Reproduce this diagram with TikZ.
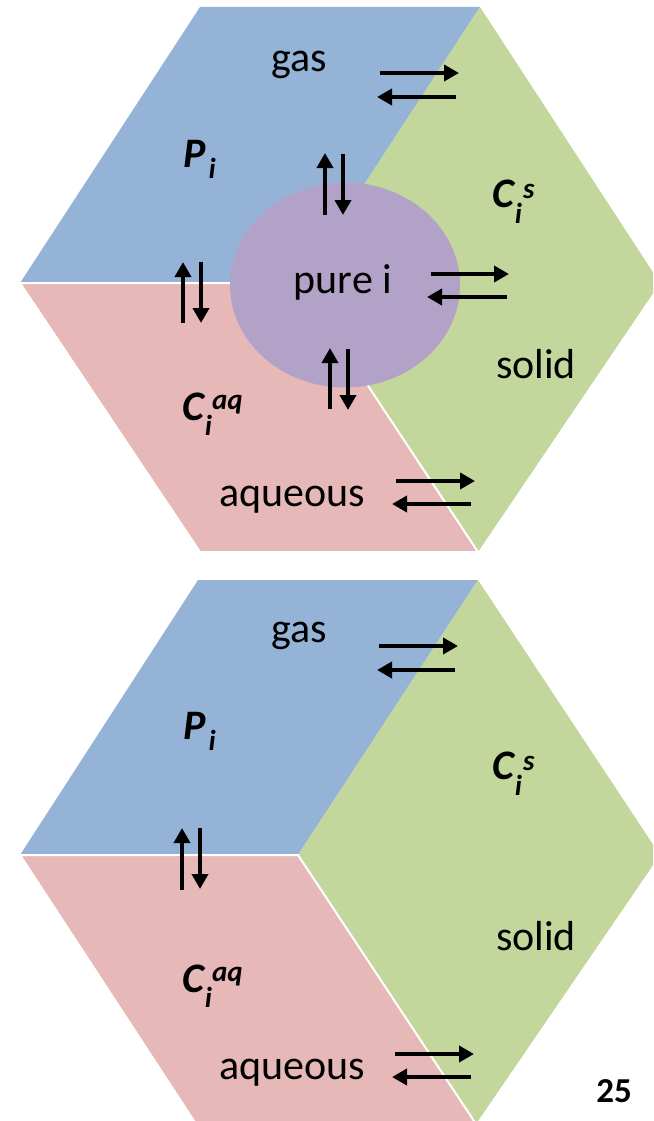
\documentclass[tikz,border=0pt]{standalone}
\usepackage{fontspec}
\setmainfont{Carlito}
\usetikzlibrary{arrows.meta,shapes.geometric}
\definecolor{gasblue}{HTML}{95B3D7}
\definecolor{solidgreen}{HTML}{C3D69B}
\definecolor{aqpink}{HTML}{E6B9B8}
\definecolor{purepurple}{HTML}{B3A2C7}
\newcommand{\smallidx}[1]{{\fontsize{29}{30}\selectfont #1}}
\begin{document}
\begin{tikzpicture}[x=1pt,y=-1pt,
  lbl/.style={font=\fontsize{42}{50}\selectfont, inner sep=0pt, anchor=base},
  var/.style={font=\fontsize{42}{50}\selectfont\bfseries\itshape, inner sep=0pt, anchor=base west},
  flow/.style={line width=4pt, -{Triangle[length=15pt,width=16pt]}},
  gasreg/.style={fill=gasblue},
  solreg/.style={fill=solidgreen},
  aqreg/.style={fill=aqpink, draw=white, line width=2pt, line join=miter}
  ]
\useasboundingbox (0,0) rectangle (653,1121);
\clip (0,0) rectangle (653,1121);

% ---------- top hexagon ----------
\path[gasreg] (200,7) -- (480,7) -- (300,283) -- (20,283) -- cycle;
\path[solreg] (480,7) -- (660,283) -- (478,552) -- (300,283) -- cycle;
\path[aqreg] (20,283) -- (300,283) -- (478,552) -- (200,552) -- cycle;
\node[ellipse, fill=purepurple, minimum width=230pt, minimum height=205pt, inner sep=0pt] (pure) at (345,285) {};

\node[lbl] (gasA) at (299,71.5) {gas};
\node[lbl] (pureA) at (343,293.5) {pure i};
\node[lbl] (solidA) at (536,378) {solid};
\node[lbl] (aqA) at (292,506) {aqueous};
\node[var] (PA) at (183,167) {P\hspace{3pt}\raisebox{-11pt}{\smallidx{i}}};
\node[var] (CsA) at (492,207) {C\hspace{1pt}\raisebox{-16pt}{\smallidx{i}}\hspace{1pt}\raisebox{9pt}{\smallidx{s}}};
\node[var] (CaqA) at (182,420) {C\hspace{1pt}\raisebox{-15pt}{\smallidx{i}}\raisebox{11pt}{\smallidx{aq}}};

\coordinate (a1) at (380,73);  \coordinate (a2) at (459,73);
\coordinate (a3) at (456,97);  \coordinate (a4) at (377,97);
\coordinate (b1) at (431,274); \coordinate (b2) at (509,274);
\coordinate (b3) at (507,297); \coordinate (b4) at (427,297);
\coordinate (c1) at (396,481); \coordinate (c2) at (475,481);
\coordinate (c3) at (471,504); \coordinate (c4) at (392,504);
\coordinate (d1) at (325,215); \coordinate (d2) at (325,153);
\coordinate (d3) at (343,154); \coordinate (d4) at (343,215);
\coordinate (e1) at (183,323); \coordinate (e2) at (183,262);
\coordinate (e3) at (201,262); \coordinate (e4) at (201,323);
\coordinate (f1) at (330,409); \coordinate (f2) at (330,348);
\coordinate (f3) at (348,349); \coordinate (f4) at (348,410);
\draw[flow] (a1) -- (a2); \draw[flow] (a3) -- (a4);
\draw[flow] (b1) -- (b2); \draw[flow] (b3) -- (b4);
\draw[flow] (c1) -- (c2); \draw[flow] (c3) -- (c4);
\draw[flow] (d1) -- (d2); \draw[flow] (d3) -- (d4);
\draw[flow] (e1) -- (e2); \draw[flow] (e3) -- (e4);
\draw[flow] (f1) -- (f2); \draw[flow] (f3) -- (f4);

% ---------- bottom hexagon ----------
\path[gasreg] (198,580) -- (478,580) -- (298,855) -- (20,855) -- cycle;
\path[solreg] (478,580) -- (660,855) -- (476,1124) -- (298,855) -- cycle;
\path[aqreg] (20,855) -- (298,855) -- (476,1124) -- (196,1124) -- cycle;

\node[lbl] (gasB) at (299,642) {gas};
\node[lbl] (solidB) at (536,950) {solid};
\node[lbl] (aqB) at (292,1079) {aqueous};
\node[var] (PB) at (183,739) {P\hspace{3pt}\raisebox{-11pt}{\smallidx{i}}};
\node[var] (CsB) at (492,779) {C\hspace{1pt}\raisebox{-16pt}{\smallidx{i}}\hspace{1pt}\raisebox{9pt}{\smallidx{s}}};
\node[var] (CaqB) at (182,992) {C\hspace{1pt}\raisebox{-15pt}{\smallidx{i}}\raisebox{11pt}{\smallidx{aq}}};

\coordinate (g1) at (379,646);  \coordinate (g2) at (458,646);
\coordinate (g3) at (455,670);  \coordinate (g4) at (377,670);
\coordinate (h1) at (182,890);  \coordinate (h2) at (182,828);
\coordinate (h3) at (200,828);  \coordinate (h4) at (200,889);
\coordinate (k1) at (395,1054); \coordinate (k2) at (474,1054);
\coordinate (k3) at (471,1077); \coordinate (k4) at (392,1077);
\draw[flow] (g1) -- (g2); \draw[flow] (g3) -- (g4);
\draw[flow] (h1) -- (h2); \draw[flow] (h3) -- (h4);
\draw[flow] (k1) -- (k2); \draw[flow] (k3) -- (k4);

\node[font=\fontsize{35}{40}\selectfont\bfseries, inner sep=0pt, anchor=base] (page) at (614,1102) {25};
\end{tikzpicture}
\end{document}
